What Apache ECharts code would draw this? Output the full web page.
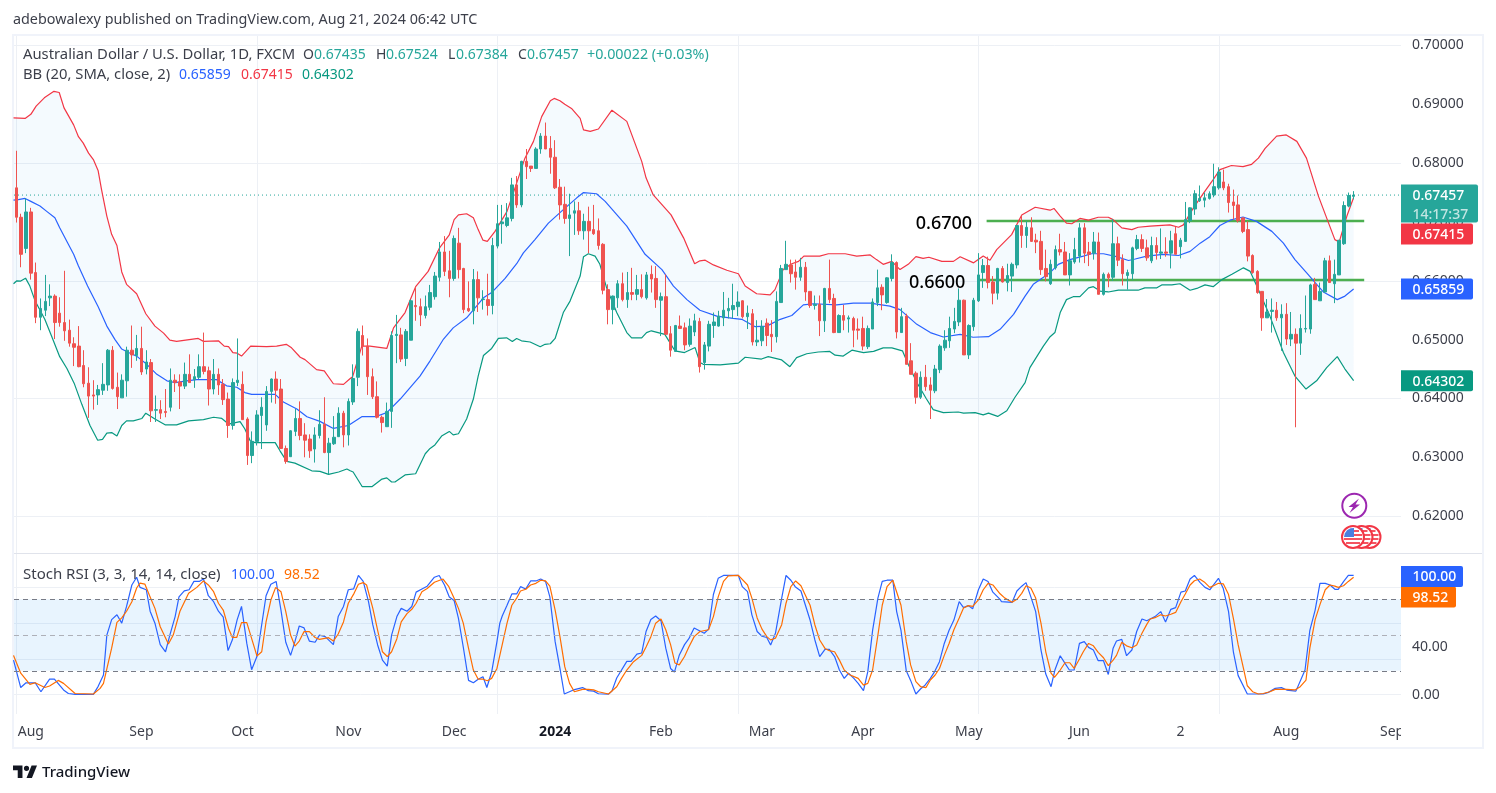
<!DOCTYPE html>
<html>
<head>
<meta charset="utf-8">
<title>AUD/USD daily</title>
<style>
html,body{margin:0;padding:0;background:#fff}
#chart{width:1496px;height:793px}
</style>
<script src="https://cdn.jsdelivr.net/npm/echarts@6/dist/echarts.min.js"></script>
</head>
<body>
<div id="chart"></div>
<script>
// Daily candles in pips (price x 10000), oldest first.
const opens=[
6758,6708,6655,6717,6614,6538,6550,6571,6574,6545,
6529,6516,6493,6489,6456,6426,6406,6406,6414,6423,
6482,6419,6401,6430,6482,6473,6485,6450,6461,6380,
6381,6378,6385,6431,6428,6421,6441,6432,6436,6454,
6447,6416,6441,6424,6399,6354,6427,6424,6365,6303,
6327,6371,6355,6412,6433,6416,6315,6301,6344,6366,
6338,6331,6314,6337,6356,6308,6323,6335,6375,6338,
6394,6436,6507,6489,6437,6403,6368,6352,6378,6507,
6508,6468,6499,6558,6556,6541,6555,6573,6606,6649,
6617,6604,6664,6621,6553,6549,6602,6568,6568,6558,
6659,6697,6694,6706,6763,6729,6803,6795,6791,6824,
6846,6825,6810,6759,6730,6706,6715,6719,6685,6701,
6687,6685,6662,6585,6551,6571,6595,6568,6580,6577,
6585,6571,6611,6604,6567,6573,6510,6480,6523,6520,
6492,6513,6531,6461,6489,6524,6523,6537,6549,6551,
6556,6566,6539,6544,6496,6498,6528,6509,6505,6563,
6619,6627,6615,6606,6623,6582,6558,6560,6532,6587,
6570,6512,6541,6535,6536,6518,6519,6488,6518,6563,
6589,6563,6604,6631,6512,6540,6464,6443,6402,6436,
6423,6413,6449,6486,6498,6518,6530,6567,6474,6522,
6566,6614,6626,6598,6579,6621,6597,6608,6627,6694,
6677,6690,6669,6667,6621,6595,6622,6653,6649,6610,
6632,6642,6690,6649,6647,6666,6577,6611,6606,6663,
6636,6609,6612,6655,6670,6656,6634,6660,6647,6649,
6647,6680,6658,6667,6702,6722,6736,6737,6740,6746,
6758,6768,6760,6734,6729,6707,6687,6643,6616,6582,
6537,6548,6550,6537,6543,6501,6509,6494,6518,6518,
6594,6566,6581,6634,6595,6610,6663,6727,6743.5];
const closes=[
6708,6645,6717,6613,6538,6553,6565,6574,6529,6529,
6515,6494,6487,6454,6425,6404,6404,6415,6424,6482,
6417,6403,6431,6482,6474,6485,6445,6462,6379,6381,
6375,6376,6431,6427,6421,6441,6427,6437,6454,6446,
6416,6441,6423,6398,6354,6427,6431,6364,6303,6327,
6372,6385,6412,6433,6414,6315,6293,6345,6366,6337,
6329,6311,6338,6356,6308,6324,6334,6375,6338,6395,
6434,6514,6489,6437,6403,6368,6359,6378,6507,6509,
6467,6514,6566,6556,6542,6556,6580,6608,6649,6616,
6604,6672,6619,6551,6549,6602,6571,6569,6558,6660,
6697,6700,6707,6763,6729,6803,6794,6791,6824,6846,
6824,6810,6758,6729,6706,6712,6719,6685,6701,6685,
6680,6660,6584,6551,6574,6595,6568,6580,6577,6585,
6573,6610,6603,6568,6573,6509,6482,6524,6519,6491,
6523,6532,6454,6491,6526,6530,6540,6550,6553,6558,
6564,6539,6545,6496,6499,6522,6507,6505,6565,6621,
6628,6612,6606,6623,6581,6558,6560,6532,6587,6568,
6512,6541,6533,6537,6516,6516,6489,6519,6564,6588,
6576,6605,6631,6513,6539,6458,6441,6402,6436,6420,
6414,6450,6489,6499,6519,6531,6567,6474,6524,6567,
6610,6626,6597,6579,6621,6598,6609,6628,6694,6677,
6691,6667,6666,6619,6607,6628,6653,6649,6610,6634,
6653,6690,6647,6645,6666,6577,6611,6605,6663,6635,
6612,6614,6656,6670,6655,6639,6660,6648,6649,6647,
6668,6645,6669,6704,6724,6748,6740,6741,6748,6760,
6785,6758,6733,6728,6702,6684,6642,6614,6580,6537,
6547,6550,6537,6543,6501,6509,6494,6519,6519,6593,
6568,6582,6634,6597,6611,6669,6728,6745,6745.7];
const lows=[
6699,6623,6647,6602,6528,6516,6540,6557,6501,6522,
6498,6488,6455,6453,6419,6367,6381,6389,6406,6413,
6415,6382,6401,6403,6452,6464,6440,6441,6360,6360,
6365,6368,6378,6411,6382,6416,6427,6418,6433,6441,
6388,6407,6406,6389,6333,6347,6421,6364,6287,6290,
6320,6314,6345,6393,6391,6314,6289,6301,6336,6329,
6300,6299,6291,6332,6307,6271,6321,6335,6317,6320,
6389,6421,6473,6406,6399,6366,6342,6352,6350,6460,
6462,6455,6499,6532,6523,6536,6550,6568,6599,6608,
6572,6600,6604,6545,6547,6526,6547,6551,6541,6543,
6655,6663,6691,6701,6724,6725,6773,6785,6791,6816,
6824,6782,6756,6704,6697,6642,6678,6678,6670,6647,
6678,6653,6577,6526,6526,6554,6565,6554,6567,6567,
6570,6568,6580,6554,6506,6509,6471,6480,6518,6482,
6488,6506,6444,6449,6480,6503,6522,6523,6536,6536,
6540,6536,6518,6490,6489,6489,6489,6479,6495,6563,
6619,6597,6585,6600,6566,6554,6551,6506,6513,6562,
6511,6512,6516,6512,6487,6500,6482,6484,6518,6557,
6550,6561,6599,6502,6512,6458,6441,6391,6399,6413,
6365,6409,6443,6481,6486,6511,6523,6474,6467,6515,
6564,6588,6587,6560,6568,6597,6582,6581,6621,6656,
6656,6666,6647,6610,6599,6593,6619,6643,6610,6592,
6629,6631,6630,6625,6636,6577,6575,6589,6600,6625,
6592,6585,6601,6652,6649,6634,6630,6636,6637,6641,
6621,6645,6638,6666,6698,6712,6734,6725,6738,6742,
6755,6754,6716,6704,6699,6681,6633,6612,6578,6515,
6537,6512,6532,6481,6491,6489,6351,6474,6512,6510,
6568,6566,6580,6597,6562,6610,6661,6725,6738.4];
const highs=[
6821,6714,6740,6724,6631,6570,6610,6594,6577,6572,
6617,6534,6504,6523,6482,6453,6431,6423,6460,6484,
6489,6444,6441,6488,6524,6508,6522,6482,6467,6405,
6397,6416,6451,6441,6441,6461,6475,6450,6475,6512,
6454,6467,6451,6433,6410,6434,6502,6446,6368,6344,
6380,6402,6421,6434,6446,6433,6320,6346,6382,6395,
6358,6339,6351,6380,6402,6333,6370,6385,6379,6400,
6458,6519,6524,6502,6451,6429,6371,6393,6514,6542,
6520,6518,6568,6590,6570,6575,6593,6615,6666,6676,
6651,6677,6690,6622,6599,6620,6616,6584,6612,6673,
6729,6729,6732,6775,6778,6804,6824,6795,6827,6851,
6869,6846,6839,6773,6760,6748,6735,6734,6714,6726,
6729,6706,6664,6594,6575,6601,6614,6615,6622,6610,
6611,6615,6626,6625,6580,6611,6523,6525,6541,6529,
6536,6544,6537,6496,6532,6546,6549,6581,6571,6595,
6582,6567,6558,6552,6533,6533,6536,6533,6582,6627,
6668,6636,6636,6639,6632,6582,6575,6575,6588,6636,
6578,6543,6559,6541,6539,6536,6539,6524,6570,6619,
6594,6606,6645,6633,6554,6544,6494,6446,6446,6457,
6436,6457,6492,6516,6539,6554,6587,6568,6526,6571,
6647,6637,6641,6608,6622,6625,6629,6631,6695,6711,
6701,6708,6680,6685,6653,6636,6660,6680,6666,6647,
6673,6698,6698,6666,6683,6682,6614,6614,6705,6675,
6645,6619,6658,6678,6679,6670,6675,6674,6689,6674,
6685,6692,6673,6734,6725,6754,6762,6750,6752,6799,
6793,6789,6765,6755,6745,6707,6701,6645,6618,6582,
6569,6570,6564,6560,6562,6547,6519,6543,6575,6595,
6605,6597,6639,6643,6636,6669,6735,6750,6752.4];

// Bollinger bands as [bar, pips].
const upperBand=[[-0.6,6877],[1.8,6876],[3,6883],[4.1,6897],[5.8,6911],[7.8,6922],[8.9,6920],[9.9,6894],[11.9,6865],[12.9,6845],[13.9,6834],[15,6817],[16,6806],[17,6787],[17.7,6755],[18.8,6710],[19.8,6679],[20.9,6660],[21.9,6615],[22.9,6594],[25,6578],[26.9,6544],[28.8,6523],[30.6,6511],[31.9,6499],[33.3,6497],[37.8,6502],[38.9,6497],[42,6498],[43.2,6489],[44.1,6488],[45,6478],[45.9,6477],[46.8,6472],[48.7,6489],[52,6488],[54.1,6489],[56.1,6492],[57.2,6486],[59,6470],[60,6466],[62.4,6449],[64,6447],[65.9,6425],[68,6424],[69.4,6434],[69.9,6437],[71.1,6469.5],[71.8,6489],[73.5,6489],[77,6485],[78.4,6520],[80.8,6546],[82.5,6580],[83,6590],[85.6,6616],[87.9,6655],[90,6678],[91,6704],[91.9,6712],[93.6,6714],[95,6707],[96,6687],[97,6669],[97.9,6667],[99.5,6684],[102,6718],[104,6766],[105.7,6808],[107.5,6837],[109.2,6879],[111,6906],[111.8,6910],[113,6906],[114,6900],[115.4,6893],[117.2,6876],[117.9,6856.5],[119.3,6854],[121,6858],[123.8,6890],[126.9,6871],[130,6803],[130.9,6775],[132.4,6746],[136.1,6712],[138.7,6673],[141,6629],[142.1,6634],[143.2,6635],[144.9,6627],[147.7,6618],[150.1,6612],[151.5,6591],[153.9,6578],[156.7,6576],[157.7,6585],[159.4,6619],[161.2,6629],[162.6,6633],[163.7,6642],[167,6642],[168.8,6646],[172.3,6646],[174.7,6642],[177.5,6644],[178.8,6636],[180.2,6628],[182,6633],[183.7,6619],[185.4,6628],[187,6641],[188.5,6638],[189.7,6640],[192.4,6633],[194.8,6633],[196.2,6641],[199,6630.5],[201,6642],[202.4,6635],[203.8,6653],[206.9,6678.5],[209,6712],[211.8,6725],[214.9,6720],[215.7,6723],[217,6710],[218.3,6698],[219.4,6697],[221.1,6706],[222.9,6703],[224.9,6708],[227,6708],[228,6704],[229.8,6690],[231.9,6687],[233.2,6691],[235.7,6693],[239.8,6695],[241.6,6691],[242.6,6695],[244.7,6724],[246.8,6749],[248.8,6772],[250.2,6789],[252.6,6796],[255,6794],[256.8,6798],[258.2,6808.5],[259.6,6825],[262,6846],[264,6848],[266.2,6837],[268.2,6808.5],[270.7,6743.5],[272.8,6698],[274.1,6670],[275,6666],[276.6,6710],[278,6741.5]];
const midBand=[[-0.6,6737],[0.4,6738],[1.8,6740],[3,6735],[4.9,6727],[6.3,6718],[8,6707],[9,6690],[10.8,6662],[11.9,6645],[12.9,6625],[14.8,6591],[17,6556],[18.8,6523],[20.5,6500],[21.9,6484],[23.3,6478],[25,6472],[27.1,6458],[29.2,6441],[31.3,6430],[33,6427],[35.4,6430],[37.5,6432],[41.6,6432],[43.7,6421.5],[45.8,6419],[47.5,6410],[48.9,6407],[53.8,6407],[55.5,6394],[58.3,6382],[60.4,6369],[63.1,6361],[65.9,6349],[69,6354],[71.8,6369],[74.6,6369],[77,6376],[79.8,6399],[83.9,6438],[86,6464],[88.8,6501],[90.8,6520],[93.6,6537],[97.1,6571],[98.8,6580],[101.6,6604],[104,6629],[105.4,6647.5],[107.8,6670],[110.6,6698],[113.7,6721],[116.5,6741],[117.9,6750],[120.6,6748],[122.4,6735],[126.9,6693],[130.7,6645],[134.2,6619],[136.6,6591],[139.4,6568],[142.1,6550],[145.6,6540],[149,6536],[150.8,6534.5],[153.6,6522],[156,6523],[158.8,6534.5],[161.2,6541],[163.6,6559],[165.7,6561],[170.5,6559],[174,6562],[177.5,6562],[181.6,6557],[183.7,6551],[187.2,6526],[190,6512],[192.7,6504.5],[196.2,6509],[198.9,6504],[202.1,6505],[204.5,6517.5],[207.3,6543],[209.7,6574],[211.4,6594],[213.9,6608],[214.9,6614],[216.6,6628],[219,6636],[221.8,6642],[223.5,6646],[226,6646],[228.7,6641],[231.2,6634.5],[232.6,6637],[235,6642],[238.4,6645],[241.6,6643],[244,6650],[246.1,6664],[248.1,6675],[250.2,6694],[252.3,6703],[255,6708.5],[257.8,6701],[261,6684],[263.4,6664],[265.8,6636],[268.2,6614],[270,6597],[271.7,6581],[274.6,6568],[276.2,6574],[278,6585.9]];
const lowerBand=[[-0.6,6595],[0.1,6600],[0.9,6599.5],[1.9,6604.5],[2.8,6591],[3.9,6565.5],[5.9,6534.5],[7.3,6506],[9,6471],[10.5,6451],[12,6426],[13.6,6390],[15.3,6354],[16.9,6329],[17.9,6330.5],[18.8,6341],[19.8,6342],[20.9,6336],[21.9,6354],[22.9,6362],[24.3,6362],[26.1,6366],[26.9,6375],[28.8,6365],[31,6355],[33.3,6355],[35.8,6362],[38.9,6364],[41,6368],[42.7,6366],[44.1,6356.5],[46.5,6360.5],[47.5,6348],[48.6,6328],[49.6,6325],[53.8,6325],[54.8,6311],[56.2,6293],[57.9,6290],[61.4,6277],[63.1,6276],[64.9,6271],[67,6275],[68.7,6280],[69.4,6277],[70,6275],[71.1,6260.5],[71.9,6250],[73.9,6250],[76,6263],[77,6265],[78,6258],[78.7,6258],[80.8,6270],[83,6272],[85,6306],[86,6315],[87,6321],[88.4,6336],[90,6344],[90.8,6338],[91.9,6340],[93.6,6365],[95,6399],[96,6438],[97.1,6473],[98.8,6485],[100.2,6502],[101.9,6503],[103.1,6497],[104,6502],[105,6498],[106.8,6496],[108.9,6488],[109.9,6492],[111,6493],[112,6502],[113.7,6546],[115.1,6565.5],[117.2,6608],[117.9,6641],[118.9,6646],[120.3,6642],[121.3,6628],[122.7,6588],[124.8,6546],[126.9,6512],[127.9,6503],[130,6503],[131,6512],[132,6515],[134.8,6509],[136.9,6481],[138.9,6478],[141.1,6486.5],[142.1,6461],[142.8,6458],[146.3,6457],[150.1,6460],[151.5,6470],[154.9,6467],[156.3,6471],[159.1,6465.5],[160.8,6454],[162.2,6469.5],[164.3,6476],[166.7,6479],[169.1,6480],[170.2,6473.5],[171.9,6472],[173.7,6482],[176.1,6478],[178.2,6480],[180.2,6486],[182,6486],[184.2,6481],[185.4,6458],[187.2,6427],[189.2,6399],[190.6,6381],[192.7,6376],[195.8,6377],[196.9,6375],[199.3,6376],[201,6372],[202.1,6375],[204,6369.5],[205.9,6379],[207.6,6402],[209.7,6427],[210.7,6452.5],[213.5,6489],[214.9,6505],[215.9,6512],[217,6546],[218.3,6568],[219.7,6573],[221.1,6573],[222.9,6588],[223.9,6590],[225.3,6582.5],[227,6581],[229.1,6584],[233.2,6584],[234.6,6588],[237.1,6588],[238.1,6593],[240.2,6593],[241.9,6595],[244,6584],[245.4,6587],[247.1,6593],[248.8,6590],[250.6,6602],[252.7,6611],[255.1,6622],[256.5,6616],[258.2,6585],[260.6,6540],[263.4,6478],[265.8,6438],[268.1,6416],[270.3,6430],[272.4,6452.5],[274.6,6471],[276.2,6450],[278,6430.2]];

// Stochastic RSI turning points as [bar, value].
const stochK=[[-0.6,29],[0.9,6],[2,10],[3.9,10],[5.1,2.5],[6.9,13],[7.9,13],[9.8,4],[10.8,1],[12.2,0.3],[16,0.3],[17,7],[18.1,16.5],[18.8,50],[19.8,63],[20.9,67],[21.9,60],[22.9,74],[24,92],[25,98.5],[25.7,90],[27,88],[27.8,70],[28.8,60],[29.9,42],[31,36],[31.9,50],[33,65.5],[33.8,82],[34.9,87],[35.9,88],[36.9,95],[38,95],[38.9,97],[39.9,83],[41,78],[42,70],[43,65],[44,37],[44.9,46],[45.9,63],[46.8,74],[47.9,43],[48.9,21],[50,32],[51.9,83],[52.9,92.6],[54,95],[55,71],[56,44],[57,33],[57.9,44.5],[58.8,57.6],[59.8,56],[60.9,45],[62.1,44],[63,50],[64.2,48.7],[65.9,42],[66.9,65.5],[68,74],[69,88],[70.1,88.7],[71.1,100],[72.1,95],[73.2,78],[74.1,58.5],[75.1,41.7],[76.1,29],[77.1,24],[78,50],[79.1,65.5],[80,72.4],[81.2,70],[82.2,74],[83.1,86],[84.3,88.7],[85.4,91],[86.9,98.5],[87.9,100],[89,92],[90,82],[91,79],[91.9,64],[92.9,40],[94,12],[95,10],[96,13],[97,15],[97.8,6],[98.8,19],[99.9,44.5],[100.5,60],[101,66],[102,75],[103,84.5],[104,84.5],[104.8,90.6],[105.9,88.7],[106.9,95.4],[108,95.4],[109,97],[110,95],[110.9,82],[112,44.5],[113,22],[113.9,0.6],[115.8,4],[117.7,6],[118.9,3.4],[120,3],[121,0.8],[123.1,0.5],[123.8,3],[124.8,14],[126.9,28],[127.8,28],[129,34],[130,35],[130.9,53],[131.9,63],[132.9,66],[134,62],[135,39],[136,22],[136.8,19],[137.8,33],[138.9,42],[139.8,47],[140.9,56],[143,51.5],[143.9,55],[144.9,84],[145.9,97.6],[147,100],[150.1,100],[150.9,90.6],[152,86.4],[152.9,67],[154,53],[155,49],[156,48],[156.8,41.7],[157.8,51.5],[159.1,81],[160,100],[161,96],[161.9,90.6],[163.1,87],[165,62.6],[166,45.9],[167,32],[168.1,38],[169,38],[170.1,32],[171.1,20.7],[172.1,13.7],[173,18],[174.1,13.7],[175,9.5],[176.1,3.4],[177,19.3],[178,54],[179.1,81],[180,95],[181,96],[182.2,96],[183,69.7],[183.9,54],[185,20],[185.9,12],[187,0.6],[188,5],[188.9,8],[190,13.7],[190.8,18.7],[191.9,27.7],[192.9,43],[193.9,54],[194.9,62.6],[196,78],[196.9,73],[197.9,74.7],[198.8,72],[200,88],[201,97],[202,95],[203,86],[204.5,80],[204.8,78],[207,77.5],[208,87],[209,91],[209.9,94],[210.9,82],[211.9,69.7],[213,37.5],[214,17.3],[215.1,6.7],[215.9,20.7],[217,32.7],[218,26.3],[218.9,20.7],[219.9,20.7],[221,43],[222,44.5],[222.9,39.7],[223.9,37.5],[224.9,28.5],[226,28.5],[227,17],[228,39],[228.7,45],[229.8,46.4],[230.8,32.7],[231.9,37.5],[232.9,53],[234,63.5],[235,62],[236.7,65.5],[237.9,69.7],[238.9,61],[240,71.6],[241,73],[242.1,86],[243,87],[244,97],[244.9,100],[246.1,94],[247.1,90],[248.1,88],[249.9,97.6],[250.9,89],[252,69.7],[253,36],[254,16],[255.9,0.6],[259.2,0.6],[260.3,2],[261.7,5.3],[263,5.9],[264.1,3.9],[266,3],[267.9,20.7],[268.9,54],[270,71],[271,93.4],[272.1,93.4],[273.1,92],[274.1,88.4],[274.8,88.4],[275.9,94.8],[276.9,100],[278,100]];
const stochD=[[-0.6,33],[0.9,18],[2.8,8.7],[3.9,10],[5.9,6],[6.9,7.3],[8.7,12],[9.8,9.5],[12.2,1],[16,0.6],[17.4,5.3],[18.1,9.5],[19.8,39],[20.9,60.7],[21.9,64.4],[22.9,70],[24,78],[25,89.5],[25.7,93.6],[26.7,92.8],[27.8,82],[28.8,72.4],[29.9,57],[31.6,42.5],[32.6,50],[34,70],[35.8,85],[37.5,90],[38.9,95.4],[39.9,92],[41,86.4],[42,76.7],[43,71],[44.1,55.6],[44.9,48],[45.8,48],[46.8,60.4],[47.9,60.4],[50,32.5],[51,36],[51.9,61],[52.9,79.4],[53.9,90],[55,86.4],[56,69.7],[57,50],[57.9,40.8],[58.8,45],[59.8,52.9],[60.9,52.9],[62.1,48],[63,46.4],[64.9,47.8],[65.9,45],[66.9,50.9],[68,61],[69,76.7],[70.2,85],[71.1,92.6],[72.1,94],[72.8,92],[74.1,72.4],[75.1,54],[76.1,36],[77.1,32],[78,36],[79.1,47],[80,61],[81.2,68],[82.2,71.6],[83.1,76.7],[84.3,86.4],[85.4,89],[86.9,94.3],[88.7,97],[89.9,90.6],[91,80.9],[91.9,72.4],[92.9,60],[94,38.8],[95,20.7],[96,13],[97,13],[97.9,11.7],[98.8,13.7],[99.9,22],[100.5,33],[102,60],[103,75],[104,81],[104.8,87],[105.9,88.4],[106.9,92],[108,93.4],[109,96],[110,95.4],[110.9,91],[112,71],[113,48.7],[114,23.5],[115,9.5],[116,2.5],[117.7,4.5],[118.9,4.5],[120,4],[121,2.5],[123.1,0.6],[124.8,6.7],[125.8,13.7],[126.9,20.7],[128.3,27.7],[130,33],[130.9,40],[131.9,48.7],[132.9,60],[134,63.5],[135,54.5],[136,42],[136.9,26.6],[137.8,25],[138.9,32],[139.8,40],[140.9,48.7],[142.1,53],[143.9,54.5],[144.9,65.5],[145.9,82],[147,95],[148,99.7],[150.1,100],[152,92],[152.9,81],[154,64.4],[155,55],[156,48.7],[156.8,46],[157.8,47.3],[159.1,58.7],[160,76.7],[161,90.6],[162,95.4],[163.1,91.4],[165,75],[166,58.5],[167,45.9],[168.1,38.8],[169,36.9],[170.1,36],[171.1,29],[172.1,20.7],[173.1,17],[175,13.7],[176.1,8],[177,9.5],[178,20.7],[179.1,50],[180,75],[181,90.6],[182.2,96],[183.9,75],[185,44.5],[185.9,25],[187,11],[188,6.7],[189.1,6],[190,12.3],[191,16.5],[191.9,22],[192.9,33],[193.9,43],[194.9,54.5],[196,64.4],[196.9,72.7],[197.9,74.7],[198.8,74],[200,79.5],[201,88],[202,93.4],[203,92],[204.5,84.6],[205.5,81],[207,77.5],[208,80],[209,85],[209.9,91.4],[210.9,89.5],[211.9,81],[213,60],[214,36],[215.1,18],[215.8,14.5],[217,20.7],[218,26.8],[219,26.8],[219.9,22],[221,30],[221.8,36],[222.9,43],[223.9,41],[224.9,35.5],[226,31],[227,24.4],[228,29],[228.7,33],[229.8,44],[230.8,41],[231.9,39.4],[232.9,41.7],[234,51.5],[235,59],[235.7,63.5],[236.7,64.6],[237.9,67],[238.9,66],[240,67.5],[241,69],[242.1,78],[243,84.5],[244,92],[244.9,95.6],[246,97],[247.1,94],[248.1,90],[249.2,92],[249.9,93.4],[250.9,93],[252,84],[253,64],[254,41.7],[255.1,22],[255.9,7.5],[257,2.5],[258.2,0.6],[259.2,1],[260.6,2.5],[261.7,4.5],[264.1,4.5],[265.8,4],[266.9,6.7],[268.1,12.3],[268.9,39],[270,63],[271,75.5],[272.1,88],[273.1,92],[274.1,91],[274.8,90],[275.9,91.4],[276.9,95],[278,98.52]];

// Drawn support and resistance levels: [first bar, last bar, price].
const levelLines=[[201.7,280.2,0.67016,'0.6700'],[200.3,280.2,0.66013,'0.6600']];

// Time axis ticks: bar number and label.
const monthBars=[3,26,47,69,91,112,134,155,176,198,221,242,264,286];
const monthNames=['Aug','Sep','Oct','Nov','Dec','2024','Feb','Mar','Apr','May','Jun','2','Aug','Sep'];
const priceTicks=[0.62,0.63,0.64,0.65,0.66,0.67,0.68,0.69,0.70];
const stochTicks=[0,40];
const stochLevels=[80,50,20];
const lastBar=278;
const lastClose=0.67457;

const FONT='"Noto Sans", sans-serif';
const TEXT='#3c3f4a';
const GRID='#edf0f5';
const X_MIN=-0.5, X_MAX=287.85;
const toPrice=([x,p])=>[x,p/10000];
const candles=opens.map((o,i)=>[i,o/1e4,closes[i]/1e4,lows[i]/1e4,highs[i]/1e4]);

const lineSeries=(name,data,color,axis)=>({
  type:'line',name,data,xAxisIndex:axis,yAxisIndex:axis,showSymbol:false,symbol:'none',
  lineStyle:{color,width:1.2},silent:true,z:4
});

// Right-hand value flags, placed from each series' own value.
function tagSeries(tags,axis){
  return {
    type:'custom',xAxisIndex:axis,yAxisIndex:axis,coordinateSystem:'cartesian2d',clip:false,silent:true,z:30,
    data:tags.map(t=>[lastBar,t.value]),
    renderItem(p,api){
      const t=tags[p.dataIndex];
      const y=api.coord([api.value(0),api.value(1)])[1]+t.shift;
      const kids=[{type:'rect',shape:{x:1401,y:y-10.5,width:t.width,height:t.height||21,r:[0,2,2,0]},style:{fill:t.color}},
        {type:'text',style:{text:t.text,x:1412.5,y:y+1,fill:'#fff',font:'500 14px '+FONT,verticalAlign:'middle'}}];
      if(t.sub)kids.push({type:'text',style:{text:t.sub,x:1412.5,y:y+19.5,fill:'rgba(255,255,255,0.72)',font:'500 14px '+FONT,verticalAlign:'middle'}});
      return {type:'group',children:kids};
    }
  };
}

const txt=(text,x,y,fill,size,weight)=>({type:'text',z:100,silent:true,style:{text,x,y:y+1,fill:fill||TEXT,font:(weight||400)+' '+(size||14)+'px '+FONT,verticalAlign:'middle'}});
const poly=(points,fill,z)=>({type:'polygon',z:z||61,silent:true,shape:{points},style:{fill}});

// Small event badge: one ringed flag.
function flag(cx,cy){
  const r='#f23645';
  const bar=(dy,x0,x1)=>({type:'rect',z:60,silent:true,shape:{x:cx+x0,y:cy+dy,width:x1-x0,height:2},style:{fill:r,opacity:.85}});
  const canton=[[cx+1,cy],[cx+1,cy-9],[cx-2.5,cy-8.7],[cx-6,cy-6.8],[cx-8.2,cy-3.6],[cx-9,cy]];
  return [
    {type:'circle',z:60,silent:true,shape:{cx,cy,r:11},style:{fill:'#fff',stroke:r,lineWidth:2}},
    poly(canton,'#4a7fe0',60),
    bar(-7,1,6),bar(-3,1,9),bar(1,-9,9),bar(5,-7,7)
  ];
}

const logoX=x=>13+x*24/35.5, logoY=y=>765.5+(y-4)*12.5/18;
const logoPt=(arr)=>arr.map(([x,y])=>[logoX(x),logoY(y)]);

const graphics=[
  {type:'rect',z:1,silent:true,shape:{x:13,y:35,width:1470,height:713},style:{fill:'none',stroke:'#f0f3fa',lineWidth:2}},
  {type:'line',z:5,silent:true,shape:{x1:14,y1:553.5,x2:1482,y2:553.5},style:{stroke:'#e0e3eb',lineWidth:1}},
  {type:'rect',z:50,silent:true,shape:{x:1401,y:716,width:80,height:30},style:{fill:'#fff'}},
  txt('adebowalexy published on TradingView.com, Aug 21, 2024 06:42 UTC',13,19,TEXT,14.35),
  txt('Australian Dollar / U.S. Dollar, 1D, FXCM',23,54,TEXT,14.8),
  txt('O',303,54),txt('0.67435',314,54,'#26a69a'),
  txt('H',376,54),txt('0.67524',386,54,'#26a69a'),
  txt('L',448,54),txt('0.67384',456,54,'#26a69a'),
  txt('C',518,54),txt('0.67457',527,54,'#26a69a'),
  txt('+0.00022 (+0.03%)',587,54,'#26a69a',14.3),
  txt('BB (20, SMA, close, 2)',23,74,TEXT,14.8),
  txt('0.65859',179,74,'#2962ff'),txt('0.67415',241,74,'#f23645'),txt('0.64302',302,74,'#089981'),
  txt('Stoch RSI (3, 3, 14, 14, close)',23,574,TEXT,15),
  txt('100.00',231,574,'#2962ff'),txt('98.52',284,574,'#ff6d00'),
  poly(logoPt([[0,4],[14,4],[14,22],[7,22],[7,11],[0,11]]),'#131722',100),
  poly(logoPt([[20,22],[27.5,4],[35.5,4],[28,22]]),'#131722',100),
  {type:'circle',z:100,silent:true,shape:{cx:logoX(20),cy:logoY(8),r:2.6},style:{fill:'#131722'}},
  txt('TradingView',42,772,'#131722',15,500),
  // Bolt badge and the stacked calendar flags under the last bars
  {type:'circle',z:60,silent:true,shape:{cx:1354.3,cy:505.7,r:12},style:{fill:'#fff',stroke:'#9c27b0',lineWidth:2}},
  poly([[1359,498.5],[1348.5,507],[1353,507],[1349.5,513],[1360,504.5],[1355.5,504.5]],'#9c27b0',61),
  ...flag(1369.5,537),...flag(1361.5,537),...flag(1353,537)
];

const option={
  animation:false,
  backgroundColor:'#fff',
  grid:[{left:14,top:35,width:1387,height:518},{left:14,top:554,width:1387,height:160}],
  xAxis:[0,1].map(i=>({
    type:'value',gridIndex:i,min:X_MIN,max:X_MAX,
    axisLine:{show:false},axisTick:{show:false},
    splitLine:{show:true,showMinLine:false,showMaxLine:false,customValues:monthBars,lineStyle:{color:GRID,width:1}},
    axisLabel:i===0?{show:false}:{
      show:true,customValues:monthBars,margin:11,showMinLabel:true,showMaxLabel:true,hideOverlap:false,
      color:TEXT,fontFamily:FONT,fontSize:14,
      formatter:v=>{const s=monthNames[monthBars.indexOf(v)]||'';return s==='2024'?'{b|2024}':s;},
      rich:{b:{fontWeight:700,fontSize:14,color:'#131722',fontFamily:FONT}}
    }
  })),
  yAxis:[
    {type:'value',gridIndex:0,position:'right',min:0.61373,max:0.70178,
     axisLine:{show:false},axisTick:{show:false},
     splitLine:{show:true,showMinLine:false,showMaxLine:false,customValues:priceTicks,lineStyle:{color:GRID}},
     axisLabel:{customValues:priceTicks,margin:11,align:'left',padding:[2,0,0,0],color:TEXT,fontFamily:FONT,fontSize:14,formatter:v=>v.toFixed(5)}},
    {type:'value',gridIndex:1,position:'right',min:-16.18,max:117.99,
     axisLine:{show:false},axisTick:{show:false},
     splitLine:{show:true,showMinLine:false,showMaxLine:false,customValues:stochTicks,lineStyle:{color:GRID}},
     axisLabel:{customValues:stochTicks,margin:11,align:'left',padding:[2,0,0,0],color:TEXT,fontFamily:FONT,fontSize:14,formatter:v=>v.toFixed(2)}}
  ],
  graphic:{elements:graphics},
  series:[
    // Shaded channel between the outer Bollinger bands
    {type:'custom',xAxisIndex:0,yAxisIndex:0,coordinateSystem:'cartesian2d',silent:true,z:1,clip:true,data:[[0,0.65]],
     renderItem(p,api){
       const pts=upperBand.concat(lowerBand.slice().reverse()).map(d=>api.coord(toPrice(d)));
       return {type:'polygon',shape:{points:pts},style:{fill:'rgba(33,150,243,0.05)'}};
     }},
    lineSeries('Upper',upperBand.map(toPrice),'#f23645',0),
    lineSeries('Basis',midBand.map(toPrice),'#2962ff',0),
    lineSeries('Lower',lowerBand.map(toPrice),'#089981',0),
    // Last-price guide
    {type:'line',xAxisIndex:0,yAxisIndex:0,showSymbol:false,symbol:'none',silent:true,z:3,
     data:[[X_MIN,lastClose],[X_MAX,lastClose]],lineStyle:{color:'#26a69a',type:[1,3],width:1}},
    ...levelLines.map(l=>({type:'line',xAxisIndex:0,yAxisIndex:0,showSymbol:false,symbol:'none',silent:true,z:3,
      data:[[l[0],l[2]],[l[1],l[2]]],lineStyle:{color:'#4caf50',width:2.4}})),
    {type:'scatter',xAxisIndex:0,yAxisIndex:0,silent:true,z:6,symbolSize:1,itemStyle:{color:'transparent',opacity:1},
     data:levelLines.map(l=>[l[0],l[2]]),
     label:{show:true,position:'left',distance:14,offset:[0,3],opacity:1,color:'#000',fontFamily:FONT,fontSize:18,fontWeight:500,
       formatter:p=>levelLines[p.dataIndex][3]}},
    {type:'candlestick',name:'AUDUSD',xAxisIndex:0,yAxisIndex:0,z:5,silent:true,barWidth:3,
     encode:{x:0,y:[1,2,3,4]},data:candles,
     itemStyle:{color:'#26a69a',color0:'#ef5350',borderColor:'#26a69a',borderColor0:'#ef5350',borderWidth:1}},
    {...lineSeries('%K',stochK,'#2962ff',1),
     markArea:{silent:true,itemStyle:{color:'rgba(33,150,243,0.1)'},data:[[{yAxis:stochLevels[2]},{yAxis:stochLevels[0]}]]},
     markLine:{silent:true,symbol:'none',label:{show:false},animation:false,
       data:stochLevels.map(v=>({yAxis:v,lineStyle:{color:v===50?'#aeb0b8':'#787b86',type:[5,4],width:1}}))}},
    lineSeries('%D',stochD,'#ff6d00',1),
    tagSeries([
      {value:lastClose,text:'0.67457',sub:'14:17:37',color:'#26a69a',shift:0,width:77,height:38},
      {value:0.67415,text:'0.67415',color:'#f23645',shift:36.5,width:72},
      {value:0.65859,text:'0.65859',color:'#2962ff',shift:0,width:72},
      {value:0.64302,text:'0.64302',color:'#089981',shift:0,width:72}
    ],0),
    tagSeries([
      {value:98.52,text:'98.52',color:'#ff6d00',shift:19.7,width:55},
      {value:100,text:'100.00',color:'#2962ff',shift:1,width:62}
    ],1)
  ]
};
echarts.init(document.getElementById('chart'),null,{renderer:'canvas'}).setOption(option);
</script>
</body>
</html>
